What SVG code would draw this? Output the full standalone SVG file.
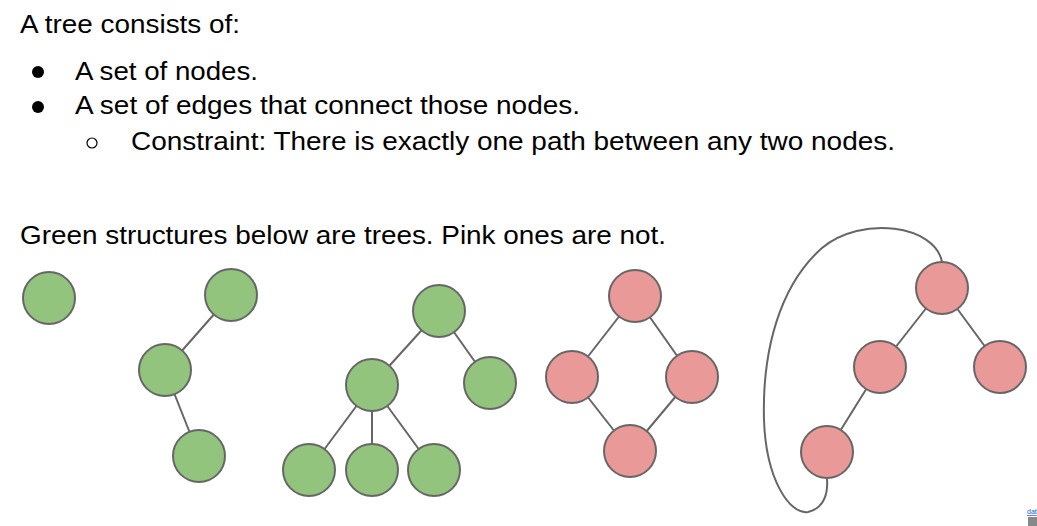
<svg xmlns="http://www.w3.org/2000/svg" width="1037" height="526" viewBox="0 0 1037 526">
<style>
.t{font-family:"Liberation Sans",Arial,sans-serif;font-size:25px;fill:#000}
.g{fill:#93c47d;stroke:#666;stroke-width:2}
.p{fill:#ea9999;stroke:#666;stroke-width:2}
.e{stroke:#666;stroke-width:2;fill:none}
</style>
<rect width="1037" height="526" fill="#fff"/>
<g id="text">
<text class="t" x="20" y="33" textLength="220" lengthAdjust="spacingAndGlyphs">A tree consists of:</text>
<circle cx="38" cy="72" r="6" fill="#000"/>
<text class="t" x="75" y="80" textLength="183" lengthAdjust="spacingAndGlyphs">A set of nodes.</text>
<circle cx="38" cy="107" r="6" fill="#000"/>
<text class="t" x="75" y="114" textLength="505" lengthAdjust="spacingAndGlyphs">A set of edges that connect those nodes.</text>
<circle cx="92" cy="143" r="5" fill="none" stroke="#000" stroke-width="1.2"/>
<text class="t" x="131" y="150" textLength="764" lengthAdjust="spacingAndGlyphs">Constraint: There is exactly one path between any two nodes.</text>
<text class="t" x="20" y="244" textLength="646" lengthAdjust="spacingAndGlyphs">Green structures below are trees. Pink ones are not.</text>
</g>
<g id="connectors">
<line class="e" x1="231" y1="295" x2="165" y2="370"/>
<line class="e" x1="165" y1="370" x2="199" y2="456"/>
<line class="e" x1="439" y1="311" x2="372" y2="385"/>
<line class="e" x1="439" y1="311" x2="490" y2="383"/>
<line class="e" x1="372" y1="385" x2="309" y2="470"/>
<line class="e" x1="372" y1="385" x2="372" y2="470"/>
<line class="e" x1="372" y1="385" x2="434" y2="470"/>
<line class="e" x1="635" y1="296" x2="572" y2="377"/>
<line class="e" x1="635" y1="296" x2="692" y2="377"/>
<line class="e" x1="572" y1="377" x2="630" y2="451"/>
<line class="e" x1="692" y1="377" x2="630" y2="451"/>
<line class="e" x1="942" y1="288" x2="880" y2="367"/>
<line class="e" x1="942" y1="288" x2="1000" y2="367"/>
<line class="e" x1="880" y1="367" x2="827" y2="452"/>
<path class="e" d="M942 262 C935 225 862 215 822 248 C780 285 762 350 764 420 C766 480 790 515 808 512 C825 508 828 492 827 479"/>
</g>
<g id="n1"><circle class="g" cx="49" cy="298" r="26"/></g>
<g id="n2"><circle class="g" cx="231" cy="295" r="26"/></g>
<g id="n3"><circle class="g" cx="165" cy="370" r="26"/></g>
<g id="n4"><circle class="g" cx="199" cy="456" r="26"/></g>
<g id="n5"><circle class="g" cx="439" cy="311" r="26"/></g>
<g id="n6"><circle class="g" cx="372" cy="385" r="26"/></g>
<g id="n7"><circle class="g" cx="490" cy="383" r="26"/></g>
<g id="n8"><circle class="g" cx="309" cy="470" r="26"/></g>
<g id="n9"><circle class="g" cx="372" cy="470" r="26"/></g>
<g id="n10"><circle class="g" cx="434" cy="470" r="26"/></g>
<g id="n11"><circle class="p" cx="635" cy="296" r="26"/></g>
<g id="n12"><circle class="p" cx="572" cy="377" r="26"/></g>
<g id="n13"><circle class="p" cx="692" cy="377" r="26"/></g>
<g id="n14"><circle class="p" cx="630" cy="451" r="26"/></g>
<g id="n15"><circle class="p" cx="942" cy="288" r="26"/></g>
<g id="n16"><circle class="p" cx="880" cy="367" r="26"/></g>
<g id="n17"><circle class="p" cx="1000" cy="367" r="26"/></g>
<g id="n18"><circle class="p" cx="827" cy="452" r="26"/></g>
<g id="corner">
<text x="1027" y="514" font-family="Liberation Sans, sans-serif" font-size="7" fill="#1155cc" text-decoration="underline">dat</text>
<rect x="1028" y="517" width="9" height="9" fill="#888"/>
</g>
</svg>
